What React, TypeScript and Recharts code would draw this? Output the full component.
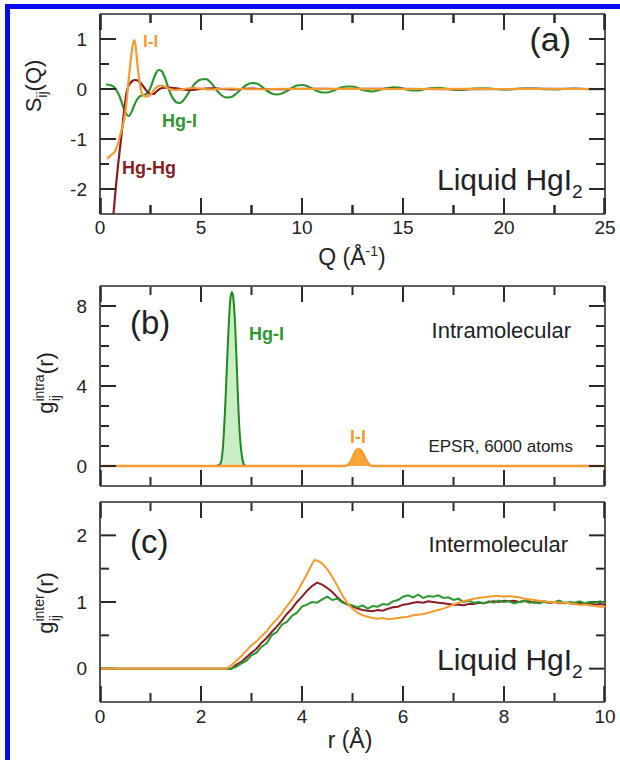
import React from 'react';
import { ComposedChart, Line, Area, XAxis, YAxis, ReferenceLine } from 'recharts';

const FONT = '"Liberation Sans", Arial, Helvetica, sans-serif';
const ORANGE = '#F59B30';
const GREEN = '#2F962F';
const DARKRED = '#8A1C24';
const AXIS = '#2A2A2A';
const TEXT = '#222222';

const PLOT_LEFT = 100;
const PLOT_W = 505;
const PLOT_H = 200;

// ---- panel (a): partial structure factors S_ij(Q) ----
const qTicks = [0, 2.5, 5, 7.5, 10, 12.5, 15, 17.5, 20, 22.5, 25];
const qMajor = [0, 5, 10, 15, 20, 25];
const sTicks = [-2, -1.5, -1, -0.5, 0, 0.5, 1];
const sMajor = [-2, -1, 0, 1];

const sqHgI: [number, number][] = [
  [0.3, 0.09], [0.5, 0.08], [0.7, 0.04], [0.85, -0.05], [1.0, -0.18], [1.15, -0.36], [1.3, -0.5],
  [1.42, -0.54], [1.55, -0.47], [1.7, -0.32], [1.85, -0.2], [2.0, -0.14], [2.15, -0.12], [2.3, -0.1],
  [2.45, -0.02], [2.6, 0.14], [2.75, 0.3], [2.9, 0.38], [3.05, 0.36], [3.2, 0.24], [3.35, 0.06],
  [3.5, -0.1], [3.65, -0.21], [3.8, -0.27], [3.95, -0.28], [4.1, -0.24], [4.3, -0.13], [4.5, 0.0],
  [4.75, 0.13], [5.0, 0.19], [5.25, 0.2], [5.5, 0.12], [5.75, -0.01], [6.0, -0.12], [6.25, -0.17],
  [6.5, -0.16], [6.75, -0.09], [7.0, 0.0], [7.25, 0.08], [7.5, 0.12], [7.75, 0.11], [8.0, 0.05],
  [8.25, -0.03], [8.5, -0.09], [8.75, -0.11], [9.0, -0.09], [9.25, -0.04], [9.5, 0.02], [9.75, 0.07],
  [10.0, 0.08], [10.25, 0.06], [10.5, 0.01], [10.75, -0.04], [11.0, -0.07], [11.25, -0.07],
  [11.5, -0.04], [11.75, 0.0], [12.0, 0.04], [12.25, 0.05], [12.5, 0.05], [12.75, 0.02], [13.0, -0.02],
  [13.25, -0.04], [13.5, -0.05], [13.75, -0.03], [14.0, 0.0], [14.25, 0.02], [14.5, 0.035],
  [14.75, 0.03], [15.0, 0.01], [15.25, -0.015], [15.5, -0.03], [15.75, -0.03], [16.0, -0.01],
  [16.25, 0.01], [16.5, 0.02], [16.75, 0.025], [17.0, 0.015], [17.25, 0.0], [17.5, -0.015],
  [17.75, -0.02], [18.0, -0.015], [18.5, 0.01], [19.0, 0.015], [19.5, 0.0], [20.0, -0.012],
  [20.5, -0.005], [21.0, 0.01], [21.5, 0.008], [22.0, -0.005], [22.5, -0.008], [23.0, 0.0],
  [23.5, 0.006], [24.0, 0.0], [24.5, -0.004], [25.0, 0.0],
];

const sqHgHg: [number, number][] = [
  [0.5, -3.3], [0.6, -2.8], [0.7, -2.35], [0.8, -1.9], [0.9, -1.5], [1.0, -1.15], [1.1, -0.78],
  [1.2, -0.42], [1.3, -0.1], [1.4, 0.05], [1.5, 0.12], [1.6, 0.16], [1.75, 0.18], [1.9, 0.16],
  [2.05, 0.1], [2.2, 0.02], [2.35, -0.06], [2.5, -0.1], [2.65, -0.1], [2.8, -0.05], [2.95, 0.0],
  [3.1, 0.02], [3.4, 0.03], [3.7, 0.02], [4.0, 0.0], [4.4, -0.02], [4.8, -0.01], [5.2, 0.01],
  [5.6, 0.015], [6.0, 0.0], [6.5, -0.01], [7.0, 0.0], [7.5, 0.01], [8.0, 0.0], [9.0, -0.005],
  [10.0, 0.005], [12.0, 0.0], [14.0, 0.003], [16.0, 0.0], [18.0, -0.003], [20.0, 0.0], [22.0, 0.002],
  [25.0, 0.0],
];

const sqII: [number, number][] = [
  [0.35, -1.4], [0.55, -1.32], [0.75, -1.24], [0.9, -1.08], [1.0, -0.92], [1.1, -0.77], [1.2, -0.6],
  [1.3, -0.32], [1.4, 0.12], [1.5, 0.5], [1.6, 0.83], [1.7, 0.98], [1.77, 0.85], [1.85, 0.5],
  [1.95, 0.16], [2.05, -0.06], [2.15, -0.13], [2.3, -0.15], [2.45, -0.13], [2.6, -0.06], [2.75, 0.02],
  [2.9, 0.06], [3.05, 0.07], [3.25, 0.04], [3.45, 0.0], [3.7, -0.02], [4.0, -0.01], [4.3, 0.01],
  [4.7, 0.02], [5.1, 0.0], [5.5, -0.01], [6.0, 0.005], [6.5, 0.01], [7.0, 0.0], [8.0, -0.005],
  [9.0, 0.005], [10.0, 0.0], [12.0, 0.003], [14.0, -0.002], [17.0, 0.002], [20.0, 0.0], [25.0, 0.0],
];

// ---- panel (b): intramolecular g_ij(r) ----
const rTicks = [0, 1, 2, 3, 4, 5, 6, 7, 8, 9, 10];
const rMajor = [0, 2, 4, 6, 8, 10];
const gIntraTicks = [0, 1, 2, 3, 4, 5, 6, 7, 8];
const gIntraMajor = [0, 4, 8];

const intraHgI: [number, number][] = [
  [2.3, 0], [2.38, 0.1], [2.43, 0.8], [2.48, 3.0], [2.53, 6.0], [2.58, 8.3], [2.61, 8.7], [2.64, 8.4],
  [2.68, 6.8], [2.72, 4.2], [2.76, 1.9], [2.81, 0.5], [2.86, 0.05], [2.9, 0],
];
const intraII: [number, number][] = [
  [0, 0], [4.85, 0], [4.92, 0.08], [4.98, 0.3], [5.04, 0.65], [5.1, 0.82], [5.15, 0.82], [5.2, 0.65],
  [5.26, 0.35], [5.32, 0.1], [5.38, 0], [10, 0],
];

// ---- panel (c): intermolecular g_ij(r) ----
const gInterTicks = [0, 0.5, 1, 1.5, 2];
const gInterMajor = [0, 1, 2];

const interHgHg: [number, number][] = [
  [0, 0], [2.6, 0], [2.7, 0.06], [2.8, 0.1], [2.9, 0.17], [3.0, 0.24], [3.1, 0.3], [3.2, 0.39],
  [3.3, 0.46], [3.4, 0.55], [3.5, 0.63], [3.6, 0.72], [3.7, 0.82], [3.8, 0.9], [3.9, 1.0], [4.0, 1.08],
  [4.1, 1.17], [4.2, 1.24], [4.3, 1.29], [4.4, 1.26], [4.5, 1.21], [4.6, 1.15], [4.7, 1.07], [4.8, 1.0],
  [4.9, 0.96], [5.0, 0.93], [5.1, 0.9], [5.2, 0.88], [5.3, 0.87], [5.4, 0.86], [5.5, 0.88], [5.6, 0.87],
  [5.7, 0.9], [5.8, 0.92], [5.9, 0.93], [6.0, 0.96], [6.1, 0.97], [6.2, 0.99], [6.3, 1.0], [6.4, 0.99],
  [6.5, 1.01], [6.6, 1.0], [6.7, 0.99], [6.8, 0.98], [6.9, 0.97], [7.0, 0.96], [7.1, 0.96], [7.2, 0.95],
  [7.3, 0.97], [7.4, 0.97], [7.5, 0.99], [7.6, 0.98], [7.7, 1.0], [7.8, 1.01], [7.9, 1.0], [8.0, 1.02],
  [8.1, 1.01], [8.2, 1.02], [8.3, 1.0], [8.4, 1.01], [8.5, 1.01], [8.6, 0.99], [8.7, 1.0], [8.8, 1.0],
  [8.9, 0.99], [9.0, 1.0], [9.1, 0.98], [9.2, 0.99], [9.3, 0.98], [9.4, 0.97], [9.5, 0.99], [9.6, 0.97],
  [9.7, 0.98], [9.8, 0.96], [9.9, 0.97], [10.0, 0.96],
];

const interHgI: [number, number][] = [
  [0, 0], [2.6, 0], [2.7, 0.03], [2.8, 0.08], [2.9, 0.12], [3.0, 0.2], [3.1, 0.24], [3.2, 0.33],
  [3.3, 0.38], [3.4, 0.5], [3.5, 0.55], [3.6, 0.66], [3.7, 0.7], [3.8, 0.79], [3.9, 0.84], [4.0, 0.93],
  [4.1, 0.96], [4.2, 1.0], [4.3, 0.99], [4.4, 1.04], [4.5, 1.08], [4.6, 1.03], [4.7, 1.05], [4.8, 0.99],
  [4.9, 0.97], [5.0, 0.95], [5.1, 0.92], [5.2, 0.95], [5.3, 0.9], [5.4, 0.94], [5.5, 0.93], [5.6, 0.97],
  [5.7, 0.96], [5.8, 1.01], [5.9, 1.03], [6.0, 1.08], [6.1, 1.1], [6.2, 1.07], [6.3, 1.11], [6.4, 1.06],
  [6.5, 1.09], [6.6, 1.08], [6.7, 1.1], [6.8, 1.06], [6.9, 1.07], [7.0, 1.03], [7.1, 1.05], [7.2, 1.0],
  [7.3, 1.02], [7.4, 0.99], [7.5, 1.0], [7.6, 0.98], [7.7, 1.01], [7.8, 0.99], [7.9, 1.02], [8.0, 1.0],
  [8.1, 1.01], [8.2, 0.98], [8.3, 1.0], [8.4, 1.02], [8.5, 0.99], [8.6, 1.0], [8.7, 0.98], [8.8, 1.01],
  [8.9, 0.99], [9.0, 1.0], [9.1, 1.02], [9.2, 0.98], [9.3, 1.0], [9.4, 0.99], [9.5, 1.01], [9.6, 0.98],
  [9.7, 1.0], [9.8, 0.99], [9.9, 1.01], [10.0, 0.99],
];

const interII: [number, number][] = [
  [0, 0], [2.5, 0], [2.6, 0.05], [2.7, 0.12], [2.8, 0.19], [2.9, 0.27], [3.0, 0.35], [3.1, 0.41],
  [3.2, 0.49], [3.3, 0.56], [3.4, 0.66], [3.5, 0.74], [3.6, 0.83], [3.7, 0.94], [3.8, 1.03], [3.9, 1.15],
  [4.0, 1.28], [4.1, 1.42], [4.2, 1.57], [4.25, 1.63], [4.3, 1.62], [4.4, 1.58], [4.5, 1.49], [4.6, 1.38],
  [4.7, 1.24], [4.8, 1.1], [4.9, 0.98], [5.0, 0.9], [5.1, 0.84], [5.2, 0.8], [5.3, 0.78], [5.4, 0.76],
  [5.5, 0.75], [5.6, 0.76], [5.7, 0.74], [5.8, 0.75], [5.9, 0.76], [6.0, 0.77], [6.1, 0.78], [6.2, 0.8],
  [6.3, 0.81], [6.4, 0.82], [6.5, 0.84], [6.6, 0.86], [6.7, 0.88], [6.8, 0.9], [6.9, 0.93], [7.0, 0.96],
  [7.1, 0.99], [7.2, 1.01], [7.3, 1.03], [7.4, 1.05], [7.5, 1.06], [7.6, 1.07], [7.7, 1.08], [7.8, 1.09],
  [7.9, 1.09], [8.0, 1.08], [8.1, 1.09], [8.2, 1.08], [8.3, 1.07], [8.4, 1.05], [8.5, 1.04], [8.6, 1.03],
  [8.7, 1.02], [8.8, 1.01], [8.9, 1.0], [9.0, 1.0], [9.1, 0.99], [9.2, 0.99], [9.3, 0.98], [9.4, 0.97],
  [9.5, 0.96], [9.6, 0.96], [9.7, 0.95], [9.8, 0.94], [9.9, 0.93], [10.0, 0.93],
];

const pts = (arr: [number, number][]) => arr.map(([x, y]) => ({ x, y }));

const axisStyle = { stroke: AXIS, strokeWidth: 1.6 };
const labelStyle = { fontSize: 19, fontFamily: FONT, fill: TEXT };

// inward tick marks on all four sides, as short reference segments kept just inside the domain
const frameTicks = (
  xs: number[], xMaj: number[], xd: [number, number],
  ys: number[], yMaj: number[], yd: [number, number],
) => {
  const ux = (xd[1] - xd[0]) / PLOT_W;
  const uy = (yd[1] - yd[0]) / PLOT_H;
  const out: React.ReactNode[] = [];
  const inX = (v: number) => Math.min(Math.max(v, xd[0] + 0.8 * ux), xd[1] - 0.8 * ux);
  const inY = (v: number) => Math.min(Math.max(v, yd[0] + 0.8 * uy), yd[1] - 0.8 * uy);
  xs.forEach((v, i) => {
    const l = (xMaj.includes(v) ? 16 : 9) * uy;
    const xv = inX(v);
    out.push(<ReferenceLine key={`xb${i}`} segment={[{ x: xv, y: inY(yd[0]) }, { x: xv, y: yd[0] + l }]} stroke={AXIS} strokeWidth={2} ifOverflow="visible" />);
    out.push(<ReferenceLine key={`xt${i}`} segment={[{ x: xv, y: yd[1] - l }, { x: xv, y: inY(yd[1]) }]} stroke={AXIS} strokeWidth={2} ifOverflow="visible" />);
  });
  ys.forEach((v, i) => {
    const l = (yMaj.includes(v) ? 16 : 9) * ux;
    out.push(<ReferenceLine key={`yl${i}`} segment={[{ x: inX(xd[0]), y: v }, { x: xd[0] + l, y: v }]} stroke={AXIS} strokeWidth={2} ifOverflow="visible" />);
    out.push(<ReferenceLine key={`yr${i}`} segment={[{ x: xd[1] - l, y: v }, { x: inX(xd[1]), y: v }]} stroke={AXIS} strokeWidth={2} ifOverflow="visible" />);
  });
  out.push(<ReferenceLine key="top" y={yd[1]} stroke={AXIS} strokeWidth={1.6} />);
  out.push(<ReferenceLine key="right" x={xd[1]} stroke={AXIS} strokeWidth={1.6} />);
  return out;
};

// same tick marks for panel (a), drawn from the plot box geometry in the overlay
const overlayTicks = (
  top: number, xs: number[], xMaj: number[], xd: [number, number],
  ys: number[], yMaj: number[], yd: [number, number],
) => {
  const out: React.ReactNode[] = [];
  xs.forEach((v, i) => {
    const px = PLOT_LEFT + ((v - xd[0]) / (xd[1] - xd[0])) * PLOT_W;
    const l = xMaj.includes(v) ? 16 : 9;
    out.push(<path key={`ob${i}`} d={`M${px},${top + PLOT_H}v${-l}M${px},${top}v${l}`} stroke={AXIS} strokeWidth={2} fill="none" />);
  });
  ys.forEach((v, i) => {
    const py = top + ((yd[1] - v) / (yd[1] - yd[0])) * PLOT_H;
    const l = yMaj.includes(v) ? 16 : 9;
    out.push(<path key={`ol${i}`} d={`M${PLOT_LEFT},${py}h${l}M${PLOT_LEFT + PLOT_W},${py}h${-l}`} stroke={AXIS} strokeWidth={2} fill="none" />);
  });
  return out;
};

const App: React.FC = () => {
  return (
    <div style={{ position: 'absolute', left: 0, top: 0, width: 620, height: 760, background: '#fff', overflow: 'hidden' }}>
      {/* blue frame */}
      <div style={{ position: 'absolute', left: 5, top: 4, width: 5, height: 756, background: '#0A0AF0' }} />
      <div style={{ position: 'absolute', left: 5, top: 4, width: 615, height: 5, background: '#0A0AF0' }} />

      {/* (a) */}
      <div style={{ position: 'absolute', left: 0, top: 0 }}>
        <ComposedChart width={620} height={270} margin={{ top: 14, right: 15, bottom: 0, left: 0 }}>
          <XAxis type="number" dataKey="x" domain={[0, 25]} ticks={qMajor} interval={0} allowDataOverflow
            height={56} tickSize={0} tickMargin={7} tickLine={false} axisLine={axisStyle} tick={labelStyle} />
          <YAxis type="number" dataKey="y" domain={[-2.5, 1.5]} ticks={sMajor} interval={0} allowDataOverflow
            width={100} tickSize={0} tickMargin={13} tickLine={false} axisLine={axisStyle} tick={labelStyle} />
          {frameTicks(qTicks, qMajor, [0, 25], sTicks, sMajor, [-2.5, 1.5])}
          <Line data={pts(sqHgI)} dataKey="y" type="monotone" stroke={GREEN} strokeWidth={2.2} dot={false} isAnimationActive={false} />
          <Line data={pts(sqHgHg)} dataKey="y" type="monotone" stroke={DARKRED} strokeWidth={2.2} dot={false} isAnimationActive={false} />
          <Line data={pts(sqII)} dataKey="y" type="monotone" stroke={ORANGE} strokeWidth={2.2} dot={false} isAnimationActive={false} />
        </ComposedChart>
      </div>

      {/* (b) */}
      <div style={{ position: 'absolute', left: 0, top: 272 }}>
        <ComposedChart width={620} height={216} margin={{ top: 14, right: 15, bottom: 0, left: 0 }}>
          <XAxis type="number" dataKey="x" domain={[0, 10]} ticks={rMajor} interval={0} allowDataOverflow
            height={2} tickSize={0} tickLine={false} axisLine={axisStyle} tick={false} />
          <YAxis type="number" dataKey="y" domain={[-1, 9]} ticks={gIntraMajor} interval={0} allowDataOverflow
            width={100} tickSize={0} tickMargin={13} tickLine={false} axisLine={axisStyle} tick={labelStyle} />
          {frameTicks(rTicks, rMajor, [0, 10], gIntraTicks, gIntraMajor, [-1, 9])}
          <Area data={pts(intraHgI)} dataKey="y" type="monotone" stroke="#1F8A1F" strokeWidth={2} fill="#CBEFC4" fillOpacity={1} dot={false} isAnimationActive={false} />
          <Area data={pts(intraII)} dataKey="y" type="monotone" stroke={ORANGE} strokeWidth={2.5} fill="#F7A63A" fillOpacity={1} dot={false} isAnimationActive={false} />
        </ComposedChart>
      </div>

      {/* (c) */}
      <div style={{ position: 'absolute', left: 0, top: 488 }}>
        <ComposedChart width={620} height={272} margin={{ top: 14, right: 15, bottom: 0, left: 0 }}>
          <XAxis type="number" dataKey="x" domain={[0, 10]} ticks={rMajor} interval={0} allowDataOverflow
            height={58} tickSize={0} tickMargin={8} tickLine={false} axisLine={axisStyle} tick={labelStyle} />
          <YAxis type="number" dataKey="y" domain={[-0.5, 2.5]} ticks={gInterMajor} interval={0} allowDataOverflow
            width={100} tickSize={0} tickMargin={13} tickLine={false} axisLine={axisStyle} tick={labelStyle} />
          {frameTicks(rTicks, rMajor, [0, 10], gInterTicks, gInterMajor, [-0.5, 2.5])}
          <Line data={pts(interHgHg)} dataKey="y" type="linear" stroke={DARKRED} strokeWidth={2} dot={false} isAnimationActive={false} />
          <Line data={pts(interHgI)} dataKey="y" type="linear" stroke={GREEN} strokeWidth={2} dot={false} isAnimationActive={false} />
          <Line data={pts(interII)} dataKey="y" type="linear" stroke={ORANGE} strokeWidth={2} dot={false} isAnimationActive={false} />
        </ComposedChart>
      </div>

      {/* titles, annotations */}
      <svg width={620} height={760} style={{ position: 'absolute', left: 0, top: 0, pointerEvents: 'none' }} fontFamily={FONT}>
        {overlayTicks(14, qTicks, qMajor, [0, 25], sTicks, sMajor, [-2.5, 1.5])}
        {/* (a) */}
        <text transform="translate(41,86) rotate(-90)" textAnchor="middle" fontSize={22} fill={TEXT}>
          S<tspan fontSize={14} dy={6}>ij</tspan><tspan dy={-6}>(Q)</tspan>
        </text>
        <text x={352} y={265} textAnchor="middle" fontSize={23} fill={TEXT}>
          Q (Å<tspan fontSize={14} dy={-9}>-1</tspan><tspan dy={9}>)</tspan>
        </text>
        <text x={571} y={51} textAnchor="end" fontSize={34} fill={TEXT}>(a)</text>
        <text x={143} y={47} fontSize={17} fontWeight="bold" fill={ORANGE}>I-I</text>
        <text x={162} y={127} fontSize={18} fontWeight="bold" fill={GREEN}>Hg-I</text>
        <text x={122} y={174} fontSize={18} fontWeight="bold" fill={DARKRED}>Hg-Hg</text>
        <text x={437} y={190} fontSize={30} fill={TEXT}>
          Liquid HgI<tspan fontSize={19} dy={8}>2</tspan>
        </text>

        {/* (b) */}
        <text transform="translate(53,383) rotate(-90)" textAnchor="middle" fontSize={22} fill={TEXT}>
          g<tspan fontSize={14} dy={-9}>intra</tspan><tspan fontSize={14} dx={-27} dy={16}>ij</tspan><tspan dx={21} dy={-7}>(r)</tspan>
        </text>
        <text x={130} y={334} fontSize={33} fill={TEXT}>(b)</text>
        <text x={249} y={340} fontSize={18} fontWeight="bold" fill={GREEN}>Hg-I</text>
        <text x={571} y={338} textAnchor="end" fontSize={22} fill={TEXT}>Intramolecular</text>
        <text x={358} y={443} textAnchor="middle" fontSize={18} fontWeight="bold" fill={ORANGE}>I-I</text>
        <text x={573} y={452} textAnchor="end" fontSize={17} fill={TEXT}>EPSR, 6000 atoms</text>

        {/* (c) */}
        <text transform="translate(53,603) rotate(-90)" textAnchor="middle" fontSize={22} fill={TEXT}>
          g<tspan fontSize={14} dy={-9}>inter</tspan><tspan fontSize={14} dx={-27} dy={16}>ij</tspan><tspan dx={21} dy={-7}>(r)</tspan>
        </text>
        <text x={130} y={553} fontSize={33} fill={TEXT}>(c)</text>
        <text x={568} y={552} textAnchor="end" fontSize={22} fill={TEXT}>Intermolecular</text>
        <text x={437} y={670} fontSize={30} fill={TEXT}>
          Liquid HgI<tspan fontSize={19} dy={8}>2</tspan>
        </text>
        <text x={350} y={748} textAnchor="middle" fontSize={23} fill={TEXT}>r (Å)</text>
      </svg>
    </div>
  );
};

export default App;
